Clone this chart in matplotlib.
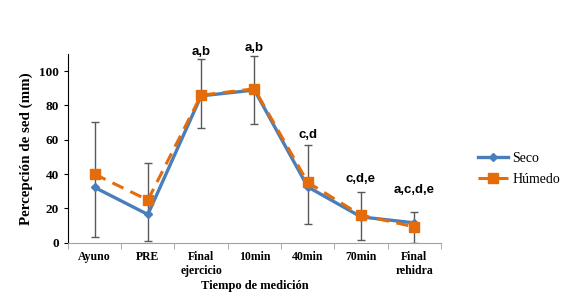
import matplotlib
matplotlib.use('Agg')
import matplotlib.pyplot as plt
import numpy as np

categories = ['Ayuno', 'PRE', 'Final\nejercicio', '10min', '40min', '70min', 'Final\nrehidra']
seco = [32.3, 16.5, 85.6, 89.0, 32.6, 15.1, 11.6]
humedo = [40.0, 24.9, 86.0, 89.7, 35.2, 16.1, 9.3]
err_low = [3.3, 1.2, 67.0, 69.1, 10.7, 1.4, 0.0]
err_high = [70.1, 46.6, 106.8, 109.1, 56.7, 29.4, 17.7]
letters = ['', '', 'a,b', 'a,b', 'c,d', 'c,d,e', 'a,c,d,e']
letter_y = [0, 0, 107.5, 110, 59.5, 33.5, 27]

SERIF = 'Liberation Serif'


def main():
    fig = plt.figure(figsize=(5.66, 3.05), dpi=100)
    ax = fig.add_axes([0.120, 0.204, 0.659, 0.619])

    x = np.arange(len(categories))
    lo = np.array(err_low)
    hi = np.array(err_high)
    mid = (lo + hi) / 2

    ax.errorbar(x, mid, yerr=(hi - lo) / 2, fmt='none', ecolor='#595959',
                elinewidth=1.0, capsize=3, capthick=1.0, zorder=1)

    ax.plot(x, seco, color='#4a7ebb', linewidth=2.4, marker='D', markersize=4.5,
            label='Seco', zorder=3)
    ax.plot(x, humedo, color='#e46c0a', linewidth=2.2, linestyle=(0, (4, 2.5)),
            marker='s', markersize=7, markerfacecolor='#e46c0a',
            markeredgecolor='#e46c0a', label='Húmedo', zorder=4)

    for xi, txt, yi in zip(x, letters, letter_y):
        if txt:
            ax.text(xi, yi, txt, ha='center', va='bottom', fontsize=9.5,
                    fontweight='bold', family='Liberation Sans', zorder=5)

    ax.set_xlim(-0.5, len(categories) - 0.5)
    ax.set_ylim(0, 110)
    ax.set_yticks([0, 20, 40, 60, 80, 100])
    ax.set_xticks(x)
    ax.set_xticklabels(categories)
    ax.set_xticks(np.arange(-0.5, len(categories), 1.0), minor=True)
    ax.tick_params(axis='x', which='major', length=0, pad=6)
    ax.tick_params(axis='x', which='minor', length=4, color='#a0a0a0', direction='out')
    ax.tick_params(axis='y', length=3, width=0.8, direction='out')

    for lab in ax.get_xticklabels():
        lab.set_family(SERIF)
        lab.set_fontweight('bold')
        lab.set_fontsize(8.5)
    for lab in ax.get_yticklabels():
        lab.set_family(SERIF)
        lab.set_fontweight('bold')
        lab.set_fontsize(9.5)

    ax.spines['top'].set_visible(False)
    ax.spines['right'].set_visible(False)
    ax.spines['bottom'].set_color('#a0a0a0')
    ax.spines['left'].set_color('black')

    ax.set_xlabel('Tiempo de medición', family=SERIF, fontweight='bold', fontsize=9, labelpad=2)
    ax.set_ylabel('Percepción de sed (mm)', family=SERIF, fontweight='bold', fontsize=10.8, labelpad=4)

    ax.legend(loc='center left', bbox_to_anchor=(1.065, 0.39), frameon=False,
              prop={'family': SERIF, 'size': 10}, handlelength=2.2, handletextpad=0.3,
              labelspacing=0.6)

    fig.savefig('out.png', dpi=100)


if __name__ == '__main__':
    main()
